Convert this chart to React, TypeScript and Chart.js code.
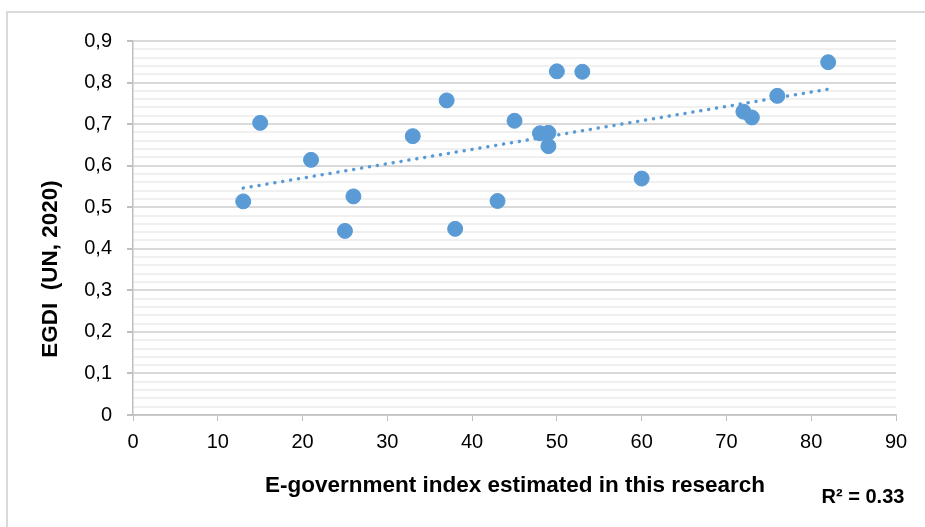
import React, { useEffect, useRef } from "react";
import { Chart, registerables } from "chart.js";

Chart.register(...registerables);

const xValues = [13, 15, 21, 25, 26, 33, 37, 38, 43, 45, 48, 49, 49, 50, 53, 60, 72, 73, 76, 82];
const yValues = [0.514, 0.703, 0.614, 0.443, 0.526, 0.671, 0.757, 0.448, 0.515, 0.708, 0.678, 0.679, 0.647, 0.827, 0.826, 0.569, 0.73, 0.716, 0.768, 0.849];
const trendX = [13, 82];
const trendY = [0.546, 0.784];
const xTitle = "E-government index estimated in this research";
const yTitle = "EGDI  (UN, 2020)";
const r2Label = "R² = 0.33";

const FONT = "'Liberation Sans', Arial, sans-serif";
const BLUE = "#5b9bd5";

const titlesPlugin = {
  id: "titlesPlugin",
  afterDraw(chart: any) {
    const ctx = chart.ctx;
    ctx.save();
    ctx.fillStyle = "#000";
    ctx.textAlign = "center";
    ctx.textBaseline = "middle";
    ctx.font = `bold 22.5px ${FONT}`;
    ctx.fillText(xTitle, 515, 486);
    ctx.font = `bold 20px ${FONT}`;
    ctx.fillText(r2Label, 863, 497);
    ctx.font = `bold 22.5px ${FONT}`;
    ctx.translate(51, 269);
    ctx.rotate(-Math.PI / 2);
    ctx.fillText(yTitle, 0, 0);
    ctx.restore();
  },
};

export default function App() {
  const ref = useRef<HTMLCanvasElement | null>(null);
  useEffect(() => {
    const points = xValues.map((x, i) => ({ x, y: yValues[i] }));
    const trend = trendX.map((x, i) => ({ x, y: trendY[i] }));
    const chart = new Chart(ref.current!, {
      type: "scatter",
      data: {
        datasets: [
          {
            type: "line",
            data: trend,
            borderColor: BLUE,
            borderWidth: 3.5,
            borderDash: [0.1, 7.9],
            borderCapStyle: "round",
            pointRadius: 0,
            fill: false,
          } as any,
          {
            data: points,
            backgroundColor: BLUE,
            borderColor: BLUE,
            pointRadius: 7.5,
            pointHoverRadius: 7.5,
          },
        ],
      },
      options: {
        animation: false,
        responsive: false,
        maintainAspectRatio: false,
        layout: { padding: { top: 41, right: 29, left: 0, bottom: 0 } },
        plugins: { legend: { display: false }, tooltip: { enabled: false } },
        scales: {
          x: {
            type: "linear",
            min: 0,
            max: 90,
            afterFit: (s: any) => { s.height = 112; },
            ticks: {
              stepSize: 10,
              color: "#000",
              font: { family: FONT, size: 20 },
              padding: 9,
              maxRotation: 0,
            },
            grid: {
              drawOnChartArea: false,
              drawTicks: true,
              tickLength: 6,
              tickColor: "#bfbfbf",
            },
            border: { color: "#bfbfbf", width: 1.5 },
          },
          y: {
            type: "linear",
            min: 0,
            max: 0.9,
            afterFit: (s: any) => { s.width = 133; },
            ticks: {
              stepSize: 0.02,
              autoSkip: false,
              color: "#000",
              font: { family: FONT, size: 20 },
              padding: 15,
              callback: (v: any) => {
                const n = Math.round(Number(v) * 100);
                if (n % 10 !== 0) return "";
                return (n / 100).toString().replace(".", ",");
              },
            },
            grid: {
              color: (c: any) => {
                const n = Math.round(c.tick.value * 100);
                return n % 10 === 0 ? "#d9d9d9" : "#f0f0f0";
              },
              lineWidth: 2,
              tickColor: (c: any) => {
                const n = Math.round(c.tick.value * 100);
                return n % 10 === 0 ? "#bfbfbf" : "rgba(0,0,0,0)";
              },
              tickLength: 6,
            },
            border: { color: "#bfbfbf", width: 1.5 },
          },
        },
      },
      plugins: [titlesPlugin],
    });
    return () => chart.destroy();
  }, []);
  return (
    <div style={{ position: "fixed", left: 0, top: 0, width: 925, height: 527, background: "#fff" }}>
      <div
        style={{
          position: "absolute",
          left: 6,
          top: 11,
          width: 940,
          height: 540,
          borderLeft: "2px solid #d9d9d9",
          borderTop: "2px solid #d9d9d9",
        }}
      />
      <canvas ref={ref} width={925} height={527} style={{ position: "absolute", left: 0, top: 0 }} />
    </div>
  );
}
